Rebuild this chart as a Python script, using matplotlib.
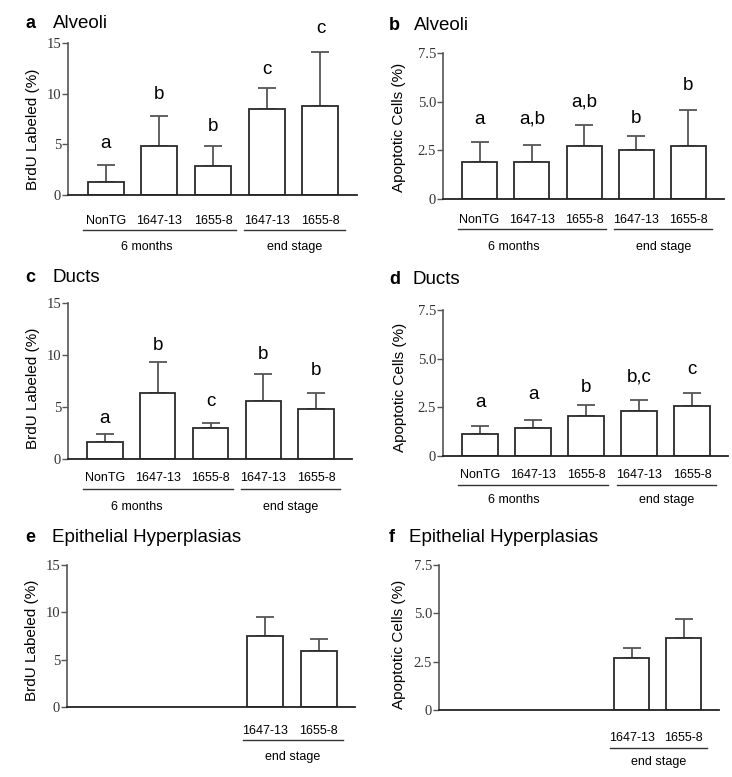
import numpy as np
import matplotlib
matplotlib.use("Agg")
import matplotlib.pyplot as plt
import matplotlib.transforms as mtransforms

# === data ===
groups = ["NonTG", "1647-13", "1655-8", "1647-13", "1655-8"]

brdu_alv = [1.3, 4.8, 2.9, 8.5, 8.8]
brdu_alv_top = [3.0, 7.8, 4.8, 10.6, 14.1]
brdu_alv_let = ["a", "b", "b", "c", "c"]
brdu_alv_let_y = [4.6, 9.5, 6.3, 11.9, 16.0]

apo_alv = [1.9, 1.9, 2.7, 2.53, 2.74]
apo_alv_top = [2.91, 2.79, 3.82, 3.22, 4.59]
apo_alv_let = ["a", "a,b", "a,b", "b", "b"]
apo_alv_let_y = [3.87, 3.87, 4.73, 3.9, 5.58]

brdu_duct = [1.6, 6.33, 2.96, 5.6, 4.82]
brdu_duct_top = [2.38, 9.29, 3.5, 8.2, 6.33]
brdu_duct_let = ["a", "b", "c", "b", "b"]
brdu_duct_let_y = [3.44, 10.45, 5.05, 9.6, 8.1]

apo_duct = [1.15, 1.42, 2.04, 2.3, 2.56]
apo_duct_top = [1.53, 1.87, 2.61, 2.9, 3.26]
apo_duct_let = ["a", "a", "b", "b,c", "c"]
apo_duct_let_y = [2.52, 2.95, 3.29, 3.81, 4.19]

hyp_groups = ["1647-13", "1655-8"]
brdu_hyp = [7.45, 5.87]
brdu_hyp_top = [9.5, 7.2]
apo_hyp = [2.67, 3.7]
apo_hyp_top = [3.19, 4.72]

W, H = 732, 777
fig = plt.figure(figsize=(W / 100, H / 100), dpi=100)

SANS = "Liberation Sans"
SERIF = "Liberation Serif"
XFS = 9  # x label font size


def px_axes(l, t, r, b):
    return fig.add_axes([l / W, (H - b) / H, (r - l) / W, (b - t) / H])


def panel(box, pos, vals, tops, ymax, yticks, yticklabels, ylabel, lab_dx, lab_fy,
          letters=None, letter_y=None, names=None, offs=(24, 33, 50), six_x=None):
    ax = px_axes(*box)
    axw = box[2] - box[0]
    pos = np.array(pos, dtype=float)
    vals = np.array(vals)
    up = np.array(tops) - vals
    ax.bar(pos, vals, width=0.67, color="white", edgecolor="#2a2a2a", linewidth=1.3,
           zorder=2)
    ax.errorbar(pos, vals, yerr=[np.zeros_like(up), up], fmt="none", ecolor="#555555",
                elinewidth=1.3, capsize=6.8, capthick=1.3, zorder=1)
    ax.set_xlim(-0.7, 4.68)
    ax.set_ylim(0, ymax)
    ax.set_yticks(yticks)
    ax.set_yticklabels(yticklabels, fontfamily=SERIF, fontsize=10.5, color="#333333")
    ax.tick_params(axis="y", length=4, width=1, pad=1, color="#555555")
    ax.set_xticks([])
    for s in ["top", "right"]:
        ax.spines[s].set_visible(False)
    ax.spines["left"].set_color("#555555")
    ax.spines["bottom"].set_color("#222222")
    ax.spines["left"].set_linewidth(1.2)
    ax.spines["bottom"].set_linewidth(1.3)
    ax.set_ylabel(ylabel, fontfamily=SANS, fontsize=11)
    ax.yaxis.set_label_coords(lab_dx / axw, lab_fy)

    if letters is not None:
        for x, t, y in zip(pos, letters, letter_y):
            ax.text(x, y, t, ha="center", va="baseline", fontfamily=SANS, fontsize=13.5,
                    clip_on=False)

    base = mtransforms.blended_transform_factory(ax.transData, ax.transAxes)
    t_lab = mtransforms.offset_copy(base, fig=fig, y=-offs[0], units="dots")
    t_line = mtransforms.offset_copy(base, fig=fig, y=-offs[1], units="dots")
    t_grp = mtransforms.offset_copy(base, fig=fig, y=-offs[2], units="dots")
    for x, n in zip(pos, names):
        ax.text(x, 0, n, transform=t_lab, ha="center", va="center", fontfamily=SANS,
                fontsize=XFS)
    if six_x is not None:
        ax.plot([-0.42, 2.42], [0, 0], transform=t_line, color="#333333", lw=1,
                clip_on=False)
        ax.text(six_x, 0, "6 months", transform=t_grp, ha="center", va="center",
                fontfamily=SANS, fontsize=XFS)
    ax.plot([2.58, 4.45], [0, 0], transform=t_line, color="#333333", lw=1,
            clip_on=False)
    ax.text(3.52, 0, "end stage", transform=t_grp, ha="center", va="center",
            fontfamily=SANS, fontsize=XFS)
    return ax


def title(x_let, x_txt, y, letter, text):
    fig.text(x_let / W, 1 - y / H, letter, fontfamily=SANS, fontweight="bold",
             fontsize=13, va="center", ha="left")
    fig.text(x_txt / W, 1 - y / H, text, fontfamily=SANS, fontsize=13.5,
             va="center", ha="left")


five = [0, 1, 2, 3, 4]
br_ticks = [0, 5, 10, 15]
br_lbl = ["0", "5", "10", "15"]
ap_ticks = [0, 2.5, 5.0, 7.5]
ap_lbl = ["0", "2.5", "5.0", "7.5"]

panel((68, 43, 357, 195), five, brdu_alv, brdu_alv_top, 15, br_ticks, br_lbl,
      "BrdU Labeled (%)", -28, 0.43, brdu_alv_let, brdu_alv_let_y, groups,
      offs=(26, 35, 52), six_x=0.76)
panel((443, 53, 724, 199), five, apo_alv, apo_alv_top, 7.5, ap_ticks, ap_lbl,
      "Apoptotic Cells (%)", -37, 0.49, apo_alv_let, apo_alv_let_y, groups,
      offs=(21, 30, 48), six_x=0.65)
panel((68, 303, 352, 459), five, brdu_duct, brdu_duct_top, 15, br_ticks, br_lbl,
      "BrdU Labeled (%)", -28, 0.45, brdu_duct_let, brdu_duct_let_y, groups,
      offs=(19, 30, 48), six_x=0.61)
panel((443, 310, 728, 456), five, apo_duct, apo_duct_top, 7.5, ap_ticks, ap_lbl,
      "Apoptotic Cells (%)", -36, 0.47, apo_duct_let, apo_duct_let_y, groups,
      offs=(19, 29, 44), six_x=0.63)
panel((67, 565, 355, 707), [3, 4], brdu_hyp, brdu_hyp_top, 15, br_ticks, br_lbl,
      "BrdU Labeled (%)", -28, 0.47, names=hyp_groups, offs=(24, 33, 50))
panel((439, 565, 719, 710), [3, 4], apo_hyp, apo_hyp_top, 7.5, ap_ticks, ap_lbl,
      "Apoptotic Cells (%)", -33, 0.45, names=hyp_groups, offs=(28, 38, 52))

title(25, 53, 23, "a", "Alveoli")
title(389, 414, 25, "b", "Alveoli")
title(25, 53, 278, "c", "Ducts")
title(389, 413, 280, "d", "Ducts")
title(25, 52, 538, "e", "Epithelial Hyperplasias")
title(389, 409, 538, "f", "Epithelial Hyperplasias")

fig.savefig("out.png", dpi=100)
